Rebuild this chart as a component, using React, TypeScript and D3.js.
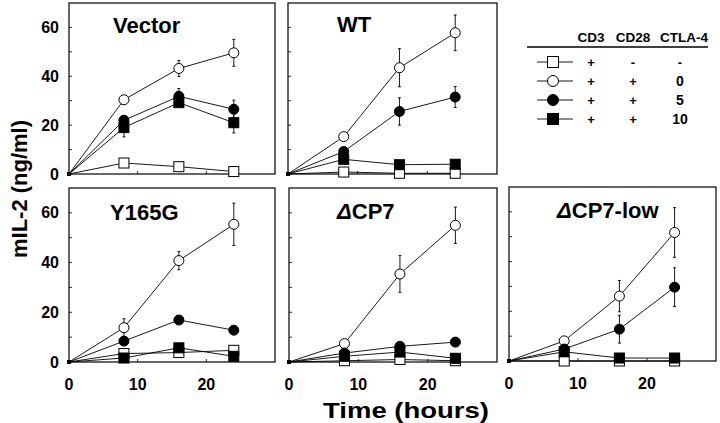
import * as d3 from 'd3';

// time points (hours)
const times = [0, 8, 16, 24];

// Vector
const vectorOpenSq = [0, 4.5, 3, 1];
const vectorOpenCirc = [0, 30.4, 43.2, 49.6];
const vectorOpenCircErr = [0, 0, 3.3, 5.5];
const vectorFillCirc = [0, 22, 31.8, 26.5];
const vectorFillCircErr = [0, 0, 3.2, 3.7];
const vectorFillSq = [0, 19, 29.2, 21];
const vectorFillSqErr = [0, 3.8, 0, 4.2];

// WT
const wtOpenSq = [0, 0.8, 0.3, 0.3];
const wtOpenCirc = [0, 15.3, 43.5, 57.8];
const wtOpenCircErr = [0, 0, 7.8, 7.3];
const wtFillCirc = [0, 9.2, 25.6, 31.5];
const wtFillCircErr = [0, 0, 5.6, 4.3];
const wtFillSq = [0, 6, 3.8, 4];

// Y165G
const yOpenSq = [0, 3.4, 3.8, 4.7];
const yOpenCirc = [0, 13.8, 40.8, 55.4];
const yOpenCircErr = [0, 3.6, 3.7, 8.5];
const yFillCirc = [0, 8.4, 16.9, 12.8];
const yFillSq = [0, 1.6, 5.7, 2.3];

// dCP7
const cpOpenSq = [0, 0.5, 1, 0.5];
const cpOpenCirc = [0, 7.4, 35.4, 55];
const cpOpenCircErr = [0, 0, 7.4, 7.3];
const cpFillCirc = [0, 3.6, 6.3, 8];
const cpFillSq = [0, 2.3, 4, 1.5];

// dCP7-low
const lowOpenSq = [0, 0, 0, 0];
const lowOpenCirc = [0, 8.1, 26.1, 51.7];
const lowOpenCircErr = [0, 0, 6.3, 10];
const lowFillCirc = [0, 4.8, 12.8, 29.7];
const lowFillCircErr = [0, 0, 5.6, 7.8];
const lowFillSq = [0, 3.7, 1.2, 1.2];

const yTicks = [0, 10, 20, 30, 40, 50, 60];
const yLabels = [0, 20, 40, 60];
const xTicks = [10, 20];
const xLabels = [0, 10, 20];

const legendHeads = ['CD3', 'CD28', 'CTLA-4'];
const legendRows = [
  { shape: 'sq', fill: 'white', vals: ['+', '-', '-'] },
  { shape: 'circ', fill: 'white', vals: ['+', '+', '0'] },
  { shape: 'circ', fill: 'black', vals: ['+', '+', '5'] },
  { shape: 'sq', fill: 'black', vals: ['+', '+', '10'] },
];

const FONT = '"Liberation Sans", Arial, Helvetica, sans-serif';

type Series = { vals: number[]; err?: number[]; shape: string; fill: string };

const mk = (os, oc, oce, fc, fce, fs, fse?): Series[] => [
  { vals: os, shape: 'sq', fill: 'white' },
  { vals: oc, err: oce, shape: 'circ', fill: 'white' },
  { vals: fc, err: fce, shape: 'circ', fill: 'black' },
  { vals: fs, err: fse, shape: 'sq', fill: 'black' },
];

const panels = [
  { title: 'Vector', delta: false, x0: 69, x1: 275, y0: 3, y1: 174, tx: 113, ty: 33, yLab: true, xLab: false,
    series: mk(vectorOpenSq, vectorOpenCirc, vectorOpenCircErr, vectorFillCirc, vectorFillCircErr, vectorFillSq, vectorFillSqErr) },
  { title: 'WT', delta: false, x0: 288, x1: 497, y0: 3, y1: 174, tx: 337, ty: 32, yLab: false, xLab: false,
    series: mk(wtOpenSq, wtOpenCirc, wtOpenCircErr, wtFillCirc, wtFillCircErr, wtFillSq) },
  { title: 'Y165G', delta: false, x0: 69, x1: 275, y0: 188, y1: 362, tx: 110, ty: 220, yLab: true, xLab: true,
    series: mk(yOpenSq, yOpenCirc, yOpenCircErr, yFillCirc, undefined, yFillSq) },
  { title: 'CP7', delta: true, x0: 289, x1: 497, y0: 188, y1: 362, tx: 337, ty: 219, yLab: false, xLab: true,
    series: mk(cpOpenSq, cpOpenCirc, cpOpenCircErr, cpFillCirc, undefined, cpFillSq) },
  { title: 'CP7-low', delta: true, x0: 509, x1: 716, y0: 187, y1: 361, tx: 557, ty: 218, yLab: false, xLab: true,
    series: mk(lowOpenSq, lowOpenCirc, lowOpenCircErr, lowFillCirc, lowFillCircErr, lowFillSq) },
];

const Marker = ({ shape, fill, x, y, r = 5 }) =>
  shape === 'circ'
    ? <circle cx={x} cy={y} r={r} fill={fill} stroke="black" strokeWidth={1} />
    : <rect x={x - r} y={y - r} width={2 * r} height={2 * r} fill={fill} stroke="black" strokeWidth={1} />;

const Panel = ({ p }) => {
  const x = d3.scaleLinear().domain([0, 30]).range([p.x0, p.x1]);
  const y = d3.scaleLinear().domain([0, 70]).range([p.y1, p.y0]);
  const line = d3.line<number>().x((_, i) => x(times[i])).y(d => y(d));
  return (
    <g>
      <rect x={p.x0} y={p.y0} width={p.x1 - p.x0} height={p.y1 - p.y0} fill="none" stroke="black" strokeWidth={1.2} />
      {yTicks.map(t => (
        <line key={'y' + t} x1={p.x0} x2={p.x0 + 3} y1={y(t)} y2={y(t)} stroke="black" strokeWidth={0.8} />
      ))}
      {xTicks.map(t => (
        <line key={'x' + t} x1={x(t)} x2={x(t)} y1={p.y1} y2={p.y1 - 3} stroke="black" strokeWidth={0.8} />
      ))}
      {p.yLab && yLabels.map(t => (
        <text key={'yl' + t} x={p.x0 - 10} y={y(t) + 5.5} textAnchor="end" fontSize={16} fontWeight="bold" fontFamily={FONT}>{t}</text>
      ))}
      {p.xLab && xLabels.map(t => (
        <text key={'xl' + t} x={x(t)} y={p.y1 + 28} textAnchor="middle" fontSize={16} fontWeight="bold" fontFamily={FONT}>{t}</text>
      ))}
      <text x={p.tx} y={p.ty} fontSize={22} fontWeight="bold" fontFamily={FONT}>
        {p.delta && <tspan fontStyle="italic">Δ</tspan>}
        <tspan fontStyle="normal">{p.title}</tspan>
      </text>
      {p.series.map((s, si) => (
        <g key={si}>
          <path d={line(s.vals)} fill="none" stroke="black" strokeWidth={0.9} />
          {s.err && s.vals.map((v, i) => s.err[i] > 0 && (
            <g key={'e' + i}>
              <line x1={x(times[i])} x2={x(times[i])} y1={y(v - s.err[i])} y2={y(v + s.err[i])} stroke="black" strokeWidth={0.9} />
              <line x1={x(times[i]) - 1.5} x2={x(times[i]) + 1.5} y1={y(v - s.err[i])} y2={y(v - s.err[i])} stroke="black" strokeWidth={0.9} />
              <line x1={x(times[i]) - 1.5} x2={x(times[i]) + 1.5} y1={y(v + s.err[i])} y2={y(v + s.err[i])} stroke="black" strokeWidth={0.9} />
            </g>
          ))}
          {s.vals.map((v, i) => i > 0 && (
            <Marker key={'m' + i} shape={s.shape} fill={s.fill} x={x(times[i])} y={y(v)} />
          ))}
        </g>
      ))}
      <rect x={x(0) - 2} y={y(0) - 2} width={4} height={4} fill="black" />
    </g>
  );
};

const Legend = () => {
  const cols = [591, 633, 684];
  const rowY = d3.scaleLinear().domain([0, 3]).range([62, 119]);
  return (
    <g fontFamily={FONT} fontWeight="bold">
      {legendHeads.map((h, i) => (
        <text key={h} x={cols[i]} y={42} textAnchor="middle" fontSize={13.5}>{h}</text>
      ))}
      <line x1={527} x2={708} y1={47} y2={47} stroke="black" strokeWidth={1.3} />
      {legendRows.map((r, i) => (
        <g key={i}>
          <line x1={537} x2={573} y1={rowY(i)} y2={rowY(i)} stroke="black" strokeWidth={0.9} />
          <Marker shape={r.shape} fill={r.fill} x={553} y={rowY(i)} r={5.5} />
          {r.vals.map((v, j) => (
            <text key={j} x={cols[j] + (j === 2 ? -4 : 0)} y={rowY(i) + 5} textAnchor="middle" fontSize={j === 2 && v !== '-' ? 14 : 13}>{v}</text>
          ))}
        </g>
      ))}
    </g>
  );
};

export default function App() {
  return (
    <svg width={720} height={423} style={{ position: 'absolute', left: 0, top: 0, background: 'white' }}>
      <rect width={720} height={423} fill="white" />
      {panels.map(p => <Panel key={p.title} p={p} />)}
      <Legend />
      <text transform="translate(27,189) rotate(-90)" textAnchor="middle" fontSize={22} fontWeight="bold" fontFamily={FONT}>mIL-2 (ng/ml)</text>
      <text x={406} y={418} textAnchor="middle" fontSize={22} fontWeight="bold" fontFamily={FONT}
        textLength={166} lengthAdjust="spacingAndGlyphs">Time (hours)</text>
    </svg>
  );
}
